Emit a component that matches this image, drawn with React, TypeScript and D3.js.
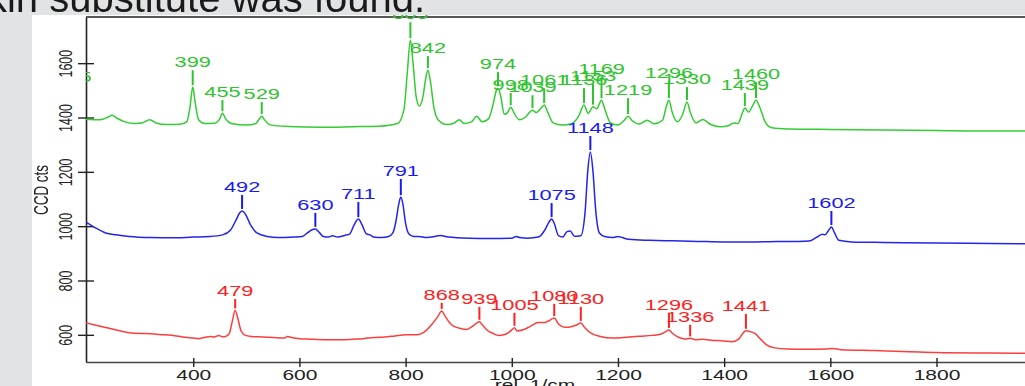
import React, { useEffect, useRef } from 'react';
import * as d3 from 'd3';

type Pt = [number, number];

// spectra: [wavenumber (rel. 1/cm), CCD cts]
const greenSpectrum: Pt[] = [
  [198, 1394], [225, 1392], [240, 1402], [247, 1408], [256, 1398], [270, 1385], [290, 1378], [305, 1381],
  [318, 1392], [330, 1380], [350, 1374], [375, 1375], [388, 1385], [394, 1440], [399, 1512], [404, 1450],
  [410, 1392], [422, 1378], [440, 1379], [449, 1392], [455, 1416], [461, 1395], [472, 1378], [500, 1372],
  [518, 1378], [525, 1396], [529, 1405], [534, 1392], [546, 1372], [580, 1367], [640, 1364], [700, 1366],
  [750, 1368], [785, 1378], [797, 1430], [803, 1560], [809, 1685], [814, 1600], [820, 1475], [826, 1442],
  [833, 1480], [838, 1545], [842, 1574], [847, 1530], [853, 1440], [862, 1390], [878, 1374], [892, 1380],
  [901, 1392], [910, 1378], [924, 1384], [934, 1405], [944, 1384], [956, 1395], [965, 1450], [971, 1500],
  [974, 1508], [979, 1480], [986, 1412], [992, 1418], [998, 1438], [1004, 1418], [1014, 1392], [1026, 1402],
  [1034, 1420], [1039, 1427], [1046, 1418], [1054, 1432], [1061, 1446], [1068, 1418], [1078, 1380], [1095, 1372],
  [1112, 1377], [1126, 1405], [1136, 1446], [1144, 1415], [1153, 1440], [1160, 1432], [1166, 1455], [1169, 1464],
  [1175, 1432], [1186, 1380], [1200, 1372], [1212, 1390], [1219, 1405], [1227, 1388], [1240, 1376], [1255, 1390],
  [1268, 1377], [1284, 1390], [1291, 1440], [1296, 1464], [1302, 1420], [1312, 1384], [1322, 1412], [1330, 1457],
  [1336, 1420], [1347, 1380], [1360, 1393], [1373, 1376], [1392, 1366], [1408, 1370], [1418, 1380], [1426, 1378],
  [1434, 1415], [1439, 1435], [1446, 1420], [1454, 1445], [1460, 1464], [1467, 1438], [1477, 1385], [1490, 1362],
  [1520, 1358], [1600, 1356], [1700, 1354], [1800, 1352], [1900, 1350], [2000, 1350],
];

const blueSpectrum: Pt[] = [
  [198, 1015], [215, 995], [235, 975], [255, 968], [280, 962], [320, 958], [360, 957], [400, 960],
  [430, 962], [455, 968], [470, 985], [480, 1020], [488, 1050], [492, 1056], [498, 1045], [508, 1005],
  [520, 975], [540, 962], [560, 958], [590, 960], [605, 962], [615, 975], [622, 985], [630, 990],
  [637, 978], [645, 962], [655, 960], [662, 965], [672, 960], [685, 966], [695, 972], [703, 1005],
  [711, 1026], [718, 1005], [726, 972], [733, 968], [740, 960], [755, 958], [768, 962], [776, 975],
  [782, 1020], [787, 1080], [791, 1107], [795, 1080], [800, 1010], [806, 972], [815, 962], [825, 962],
  [840, 958], [855, 962], [865, 966], [880, 960], [920, 956], [960, 955], [1000, 956], [1008, 962],
  [1015, 958], [1030, 956], [1050, 960], [1062, 985], [1070, 1015], [1075, 1026], [1080, 1010], [1088, 965],
  [1096, 960], [1104, 980], [1110, 982], [1118, 963], [1130, 965], [1138, 1050], [1143, 1200], [1148, 1273],
  [1153, 1200], [1158, 1060], [1165, 975], [1175, 962], [1190, 958], [1200, 962], [1208, 958], [1220, 952],
  [1260, 948], [1300, 946], [1350, 944], [1400, 942], [1450, 942], [1500, 944], [1540, 944], [1560, 945],
  [1575, 960], [1585, 970], [1590, 968], [1597, 985], [1602, 997], [1608, 975], [1616, 948], [1640, 942],
  [1700, 940], [1800, 938], [1900, 936], [2000, 935],
];

const redSpectrum: Pt[] = [
  [198, 644], [215, 636], [235, 627], [255, 618], [280, 608], [300, 605], [320, 604], [345, 600],
  [365, 597], [380, 592], [400, 588], [410, 586], [420, 590], [432, 594], [440, 592], [448, 598],
  [455, 593], [462, 595], [468, 605], [473, 645], [479, 690], [484, 660], [490, 615], [498, 598],
  [510, 594], [530, 592], [550, 590], [570, 588], [578, 594], [585, 590], [600, 586], [620, 584],
  [650, 582], [680, 582], [700, 584], [720, 586], [740, 590], [760, 592], [780, 596], [800, 600],
  [820, 600], [835, 610], [850, 640], [860, 665], [868, 688], [874, 670], [885, 640], [900, 625],
  [915, 620], [925, 630], [933, 642], [939, 648], [945, 635], [955, 615], [965, 605], [975, 598],
  [985, 600], [995, 610], [1000, 618], [1005, 626], [1010, 615], [1020, 618], [1034, 630], [1050, 645],
  [1062, 645], [1070, 652], [1080, 662], [1088, 640], [1100, 628], [1112, 630], [1122, 636], [1130, 644],
  [1138, 625], [1150, 605], [1165, 595], [1190, 588], [1210, 590], [1240, 595], [1265, 598], [1280, 602],
  [1290, 612], [1296, 618], [1303, 605], [1315, 590], [1326, 585], [1336, 587], [1346, 582], [1360, 584],
  [1375, 580], [1395, 578], [1415, 575], [1428, 585], [1435, 605], [1441, 615], [1448, 612], [1458, 605],
  [1468, 585], [1480, 563], [1495, 552], [1520, 548], [1560, 547], [1590, 548], [1605, 550], [1620, 545],
  [1680, 542], [1750, 538], [1800, 535], [1900, 533], [2000, 532],
];

// peak annotations: [wavenumber, count level at the top of the marker]
const greenPeaks: Pt[] = [
  [175, 1519], [399, 1574], [455, 1464], [529, 1457], [809, 1751], [842, 1626], [974, 1567], [998, 1490],
  [1039, 1482], [1061, 1508], [1136, 1508], [1153, 1523], [1169, 1548], [1219, 1471], [1296, 1534],
  [1330, 1512], [1439, 1490], [1460, 1530],
];
const bluePeaks: Pt[] = [
  [492, 1115], [630, 1049], [711, 1089], [791, 1174], [1075, 1085], [1148, 1332], [1602, 1056],
];
const redPeaks: Pt[] = [
  [479, 732], [868, 718], [939, 703], [1005, 681], [1080, 714], [1130, 703], [1296, 681], [1336, 637], [1441, 677],
];

const xTicks = [400, 600, 800, 1000, 1200, 1400, 1600, 1800];
const yTicks = [600, 800, 1000, 1200, 1400, 1600];

const series = [
  { data: greenSpectrum, peaks: greenPeaks, line: '#33cc33', label: '#2ec42e' },
  { data: blueSpectrum, peaks: bluePeaks, line: '#2424ee', label: '#1a1af5' },
  { data: redSpectrum, peaks: redPeaks, line: '#ff3d3d', label: '#ff2020' },
];

const W = 1025;
const H = 386;
const FONT = '"Liberation Sans", Arial, sans-serif';
const SX = 1.5; // the original graphic is stretched horizontally

export default function App() {
  const svgRef = useRef<SVGSVGElement>(null);

  useEffect(() => {
    if (!svgRef.current) return;
    const svg = d3.select(svgRef.current);
    svg.selectAll('*').remove();

    const left = 86, top = 17, bottom = 362;
    const x = d3.scaleLinear().domain([198, 2000]).range([left, left + 1802 * 0.5309]);
    const y = d3.scaleLinear().domain([500, 1770]).range([bottom, top]);

    svg.append('rect').attr('width', W).attr('height', H).attr('fill', '#e2e3e5');
    svg.append('rect').attr('x', 32).attr('y', 15).attr('width', W).attr('height', H).attr('fill', '#ffffff');

    const defs = svg.append('defs');
    defs.append('clipPath').attr('id', 'plot-clip')
      .append('rect').attr('x', left).attr('y', top).attr('width', W).attr('height', bottom - top);
    defs.append('clipPath').attr('id', 'label-clip')
      .append('rect').attr('x', left).attr('y', 0).attr('width', W).attr('height', bottom);

    // axes
    const gx = svg.append('g')
      .attr('transform', `translate(0,${bottom})`)
      .call(d3.axisBottom(x).tickValues(xTicks).tickSizeOuter(0).tickFormat(d3.format('d')));
    gx.select('.domain').attr('stroke', '#444').attr('stroke-width', 1.6);
    gx.selectAll('.tick line').attr('y1', -4).attr('y2', 5).attr('stroke', '#222').attr('stroke-width', 1.4);
    gx.selectAll('.tick text')
      .attr('y', null).attr('dy', null)
      .attr('transform', `translate(0,18) scale(${SX},1)`)
      .attr('fill', '#222')
      .style('font-family', FONT).style('font-size', '14px');

    const gy = svg.append('g')
      .attr('transform', `translate(${left},0)`)
      .call(d3.axisLeft(y).tickValues(yTicks).tickSizeOuter(0).tickFormat(d3.format('d')));
    gy.select('.domain').attr('stroke', '#222').attr('stroke-width', 1.6);
    gy.selectAll('.tick line').attr('x1', -8).attr('x2', 8).attr('stroke', '#222').attr('stroke-width', 1.4);
    gy.selectAll('.tick text')
      .attr('x', null).attr('dy', null)
      .attr('text-anchor', 'middle')
      .attr('transform', `translate(-14.5,0) scale(${SX},1) rotate(-90)`)
      .attr('fill', '#222')
      .style('font-family', FONT).style('font-size', '12.5px');

    svg.append('line')
      .attr('x1', left).attr('x2', W).attr('y1', top).attr('y2', top)
      .attr('stroke', '#222').attr('stroke-width', 1.4);

    svg.append('text')
      .attr('transform', `translate(47.5,190) scale(${SX},1) rotate(-90)`)
      .attr('text-anchor', 'middle')
      .style('font-family', FONT).style('font-size', '13.5px')
      .attr('fill', '#222')
      .text('CCD cts');

    svg.append('text')
      .attr('transform', `translate(535,390) scale(${SX},1)`)
      .attr('text-anchor', 'middle')
      .style('font-family', FONT).style('font-size', '14px')
      .attr('fill', '#222')
      .text('rel. 1/cm');

    // spectra
    const line = d3.line<Pt>()
      .x(d => x(d[0]))
      .y(d => y(d[1]))
      .curve(d3.curveMonotoneX);

    const plot = svg.append('g').attr('clip-path', 'url(#plot-clip)');
    series.forEach(s => {
      plot.append('path')
        .attr('d', line(s.data))
        .attr('fill', 'none')
        .attr('stroke', s.line)
        .attr('stroke-width', 1.5)
        .attr('stroke-linejoin', 'round');
    });

    // peak markers and labels
    const labels = svg.append('g').attr('clip-path', 'url(#label-clip)');
    series.forEach(s => {
      s.peaks.forEach(([wn, level]) => {
        const nearest = d3.least(s.data, d => Math.abs(d[0] - wn))!;
        const px = x(wn);
        const yTop = y(level);
        const yBot = Math.max(yTop + 6, y(nearest[1]) - 2);
        labels.append('line')
          .attr('x1', px).attr('x2', px)
          .attr('y1', yTop).attr('y2', yBot)
          .attr('stroke', s.label)
          .attr('stroke-width', 2);
        labels.append('text')
          .attr('transform', `translate(${px},${yTop - 3}) scale(${SX},1)`)
          .attr('text-anchor', 'middle')
          .attr('fill', s.label)
          .style('font-family', FONT).style('font-size', '14.5px')
          .text(String(wn));
      });
    });

    // slide background over the top and the cropped sentence
    svg.append('rect').attr('x', 0).attr('y', 0).attr('width', W).attr('height', 15).attr('fill', '#e2e3e5');
    svg.append('rect').attr('x', 0).attr('y', 0).attr('width', 32).attr('height', H).attr('fill', '#e2e3e5');
    svg.append('text')
      .attr('x', 425).attr('y', 12)
      .attr('text-anchor', 'end')
      .attr('fill', '#1a1a1a')
      .style('font-family', FONT).style('font-size', '40px')
      .text('kin substitute was found.');
  }, []);

  return (
    <div style={{ position: 'fixed', left: 0, top: 0, width: W, height: H, overflow: 'hidden' }}>
      <svg ref={svgRef} width={W} height={H} style={{ display: 'block' }} />
    </div>
  );
}
